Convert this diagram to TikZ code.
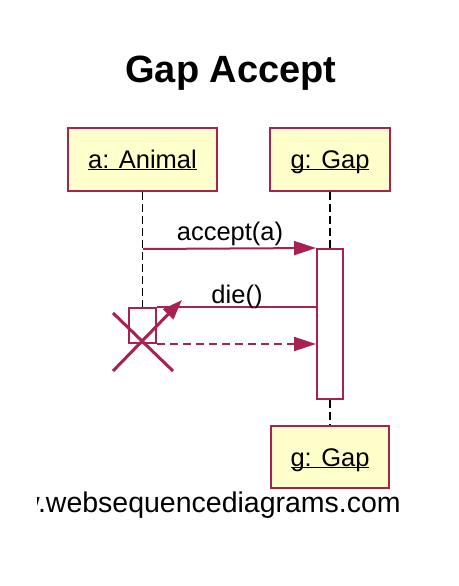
\documentclass[tikz,border=0pt]{standalone}
\usepackage{fontspec}
\setmainfont{Liberation Sans}
\usetikzlibrary{arrows.meta}
\definecolor{wsdred}{HTML}{A8224F}
\definecolor{wsdfill}{HTML}{FFFFCC}
\newcommand{\wsdul}[1]{\underline{\smash{#1}}}
\begin{document}
\begin{tikzpicture}[x=1pt,y=-1pt,
  participant/.style={draw=wsdred, fill=wsdfill, line width=2pt, minimum width=#1,
    minimum height=63pt, inner sep=0pt, text height=18pt, text depth=0pt,
    font=\fontsize{25.5}{30}\selectfont},
  activation/.style={draw=wsdred, fill=white, line width=2pt, inner sep=0pt},
  lifeline/.style={line width=1.6pt, dash pattern=on 8pt off 4pt},
  msg/.style={draw=wsdred, line width=2pt, -{Triangle[length=22pt,width=14pt]}},
  lbl/.style={font=\fontsize{25.5}{30}\selectfont, anchor=base, inner sep=0pt}]
\useasboundingbox (0,0) rectangle (458,586);
\fill[white] (0,0) rectangle (458,586);

\node[font=\fontsize{38}{44}\selectfont\bfseries, anchor=base, inner sep=0pt] (title) at (231,82) {Gap Accept};

\node[participant=149pt] (boxA) at (142.5,159) {\wsdul{a: Animal}};
\node[participant=120pt] (boxG) at (330,159) {\wsdul{g: Gap}};
\node[participant=118pt, minimum height=62pt] (boxG2) at (330,457) {\wsdul{g: Gap}};

% activation bars (positions)
\node[activation, minimum width=26pt, minimum height=150pt] (act) at (330,324) {};
\coordinate (actAtop) at (142.5,308);

% lifelines
\draw[lifeline] (boxA.south) -- (actAtop);
\draw[lifeline] (boxG.south) -- (act.north);
\draw[lifeline] (act.south) -- (boxG2.north);

\node[activation, minimum width=27pt, minimum height=35pt] (actA) at (142.5,325.5) {};
\node[activation, minimum width=26pt, minimum height=150pt] at (act) {};

% accept(a)
\coordinate (m1) at (143,249);
\draw[msg] (m1) -- (act.north west);
\node[lbl] (l1) at (230,240) {accept(a)};

% die()
\coordinate (m2) at (act.west |- actA.north);
\draw[wsdred, line width=2pt] (m2) -- (actA.north east);
\node[lbl] (l2) at (237,303) {die()};

% return
\coordinate (m3) at (act.west |- actA.south);
\draw[msg, dash pattern=on 8pt off 5pt] (actA.south east) -- (m3);

% destroy cross
\coordinate (x1) at (113,313);
\coordinate (x2) at (173,371);
\coordinate (x3) at (113,371);
\coordinate (x4) at (182,300);
\draw[wsdred, line width=3pt] (x1) -- (x2);
\draw[msg, line width=3pt, -{Triangle[length=20pt,width=14pt]}] (x3) -- (x4);

\begin{scope}
\clip (37,480) rectangle (458,530);
\node[anchor=base east, font=\fontsize{28.5}{33}\selectfont, inner sep=0pt] (url) at (401,512) {www.websequencediagrams.com};
\end{scope}
\end{tikzpicture}
\end{document}
